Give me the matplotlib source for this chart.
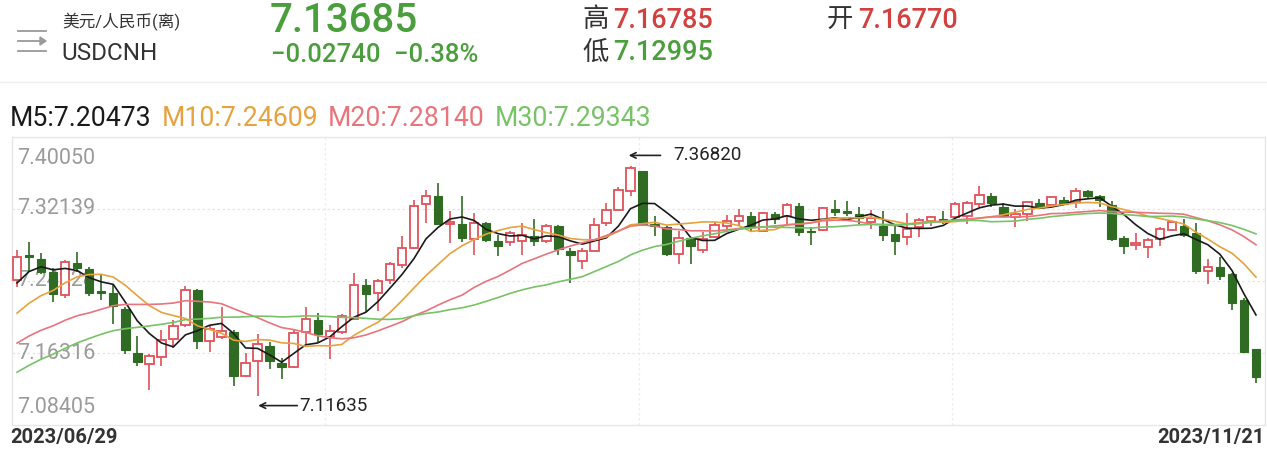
import numpy as np
import pandas as pd
import matplotlib
matplotlib.use('Agg')
import matplotlib.pyplot as plt
from matplotlib.patches import Rectangle, Polygon
from matplotlib.lines import Line2D
from matplotlib.transforms import offset_copy

plt.rcParams['font.family'] = ['Roboto', 'Noto Sans CJK SC', 'DejaVu Sans']

# daily candles 2023/06/29 .. 2023/11/21
opens = [7.2436, 7.2703, 7.2659, 7.2527, 7.2272, 7.2619, 7.2557, 7.2309, 7.2290, 7.2119,
         7.1636, 7.1508, 7.1589, 7.1783, 7.1936, 7.2320, 7.1761, 7.1808, 7.1863, 7.1378,
         7.1542, 7.1710, 7.1527, 7.1473, 7.1863, 7.1998, 7.1808, 7.1863, 7.2009, 7.2374,
         7.2290, 7.2429, 7.2604, 7.2787, 7.3269, 7.3360, 7.3050, 7.3050, 7.2885, 7.3060,
         7.2867, 7.2849, 7.2867, 7.2922, 7.2867, 7.3031, 7.2757, 7.2648, 7.2757, 7.3057,
         7.3203, 7.3414, 7.3626, 7.3050, 7.3013, 7.2714, 7.2896, 7.2765, 7.2911, 7.3031,
         7.3079, 7.3141, 7.2977, 7.3159, 7.3134, 7.3250, 7.2977, 7.2984, 7.3214, 7.3196,
         7.3159, 7.3075, 7.3031, 7.2940, 7.2911, 7.3013, 7.3086, 7.3104, 7.3123, 7.3141,
         7.3269, 7.3360, 7.3232, 7.3130, 7.3159, 7.3279, 7.3261, 7.3312, 7.3294, 7.3407,
         7.3360, 7.3261, 7.2896, 7.2823, 7.2801, 7.2885, 7.2984, 7.3031, 7.2947, 7.2531,
         7.2582, 7.2502, 7.2210, 7.16770]
highs = [7.2764, 7.2856, 7.2728, 7.2564, 7.2655, 7.2746, 7.2582, 7.2484, 7.2385, 7.2137,
         7.1816, 7.1617, 7.1889, 7.1991, 7.2363, 7.2338, 7.1925, 7.2137, 7.1889, 7.1633,
         7.1838, 7.1754, 7.1582, 7.1900, 7.2137, 7.2071, 7.1944, 7.2057, 7.2509, 7.2440,
         7.2447, 7.2630, 7.2922, 7.3312, 7.3422, 7.3495, 7.3188, 7.3360, 7.3166, 7.3075,
         7.2933, 7.2977, 7.3057, 7.3104, 7.3050, 7.3042, 7.2787, 7.2787, 7.3115, 7.3276,
         7.3458, 7.36820, 7.3634, 7.3141, 7.3031, 7.2977, 7.2911, 7.2958, 7.3068, 7.3152,
         7.3214, 7.3177, 7.3177, 7.3177, 7.3276, 7.3276, 7.3020, 7.3239, 7.3313, 7.3298,
         7.3239, 7.3203, 7.3188, 7.3042, 7.3170, 7.3115, 7.3141, 7.3196, 7.3294, 7.3305,
         7.3469, 7.3385, 7.3276, 7.3214, 7.3298, 7.3323, 7.3349, 7.3349, 7.3444, 7.3422,
         7.3371, 7.3305, 7.2922, 7.2947, 7.2893, 7.3013, 7.3079, 7.3104, 7.3057, 7.2666,
         7.2685, 7.2509, 7.2236, 7.16785]
lows = [7.2360, 7.2520, 7.2502, 7.2191, 7.2235, 7.2520, 7.2254, 7.2210, 7.1954, 7.1625,
        7.1487, 7.1230, 7.1487, 7.1688, 7.1918, 7.1681, 7.1643, 7.1790, 7.1268, 7.1371,
        7.11635, 7.1451, 7.1341, 7.1462, 7.1736, 7.1754, 7.1564, 7.1845, 7.1998, 7.2082,
        7.2093, 7.2393, 7.2568, 7.2776, 7.3057, 7.3039, 7.2838, 7.2849, 7.2703, 7.2849,
        7.2692, 7.2812, 7.2703, 7.2812, 7.2838, 7.2703, 7.2400, 7.2557, 7.2750, 7.3031,
        7.3196, 7.3360, 7.3031, 7.2922, 7.2692, 7.2612, 7.2612, 7.2728, 7.2896, 7.2977,
        7.3031, 7.2977, 7.2969, 7.3050, 7.3031, 7.2922, 7.2820, 7.2977, 7.3141, 7.3141,
        7.3050, 7.2995, 7.2860, 7.2703, 7.2823, 7.2904, 7.3031, 7.3050, 7.3086, 7.3050,
        7.3232, 7.3232, 7.3123, 7.3020, 7.3086, 7.3232, 7.3225, 7.3258, 7.3225, 7.3334,
        7.3239, 7.2867, 7.2714, 7.2758, 7.2677, 7.2812, 7.2977, 7.2911, 7.2495, 7.2393,
        7.2436, 7.2108, 7.1633, 7.12995]
closes = [7.2684, 7.2681, 7.2520, 7.2283, 7.2637, 7.2564, 7.2294, 7.2290, 7.2144, 7.1661,
          7.1534, 7.1599, 7.1772, 7.1929, 7.2320, 7.1761, 7.1899, 7.1874, 7.1378, 7.1524,
          7.1736, 7.1542, 7.1473, 7.1856, 7.2002, 7.1838, 7.1874, 7.2035, 7.2374, 7.2276,
          7.2422, 7.2611, 7.2787, 7.3250, 7.3360, 7.3050, 7.3075, 7.2896, 7.3057, 7.2874,
          7.2812, 7.2947, 7.2933, 7.2867, 7.3031, 7.2776, 7.2710, 7.2757, 7.3042, 7.3203,
          7.3422, 7.3663, 7.3050, 7.3031, 7.2714, 7.2896, 7.2812, 7.2885, 7.3042, 7.3086,
          7.3134, 7.3031, 7.3170, 7.3104, 7.3261, 7.2958, 7.2958, 7.3225, 7.3177, 7.3167,
          7.3112, 7.3112, 7.2933, 7.2867, 7.2995, 7.3094, 7.3123, 7.3086, 7.3272, 7.3279,
          7.3371, 7.3276, 7.3141, 7.3159, 7.3287, 7.3250, 7.3342, 7.3269, 7.3407, 7.3360,
          7.3312, 7.2885, 7.2812, 7.2838, 7.2878, 7.2995, 7.3068, 7.2933, 7.2528, 7.2582,
          7.2473, 7.2181, 7.1644, 7.13685]
# closes before 06/29, estimated from where the MA lines start
prior_closes = [7.040, 7.052, 7.061, 7.070, 7.078, 7.083, 7.090, 7.096, 7.102, 7.108,
                7.112, 7.125, 7.130, 7.142, 7.158, 7.166, 7.150, 7.135, 7.139, 7.153,
                7.160, 7.168, 7.172, 7.180, 7.190,
                7.205, 7.226, 7.245, 7.256]

ytick_vals = [7.40050, 7.32139, 7.24228, 7.16316, 7.08405]
date_labels = ['2023/06/29', '2023/11/21']
ma_periods = [5, 10, 20, 30]
ma_labels = ['M5:7.20473', 'M10:7.24609', 'M20:7.28140', 'M30:7.29343']
ma_colors = ['#1a1a1a', '#e6a23c', '#e8747c', '#78c267']

RED = '#e0525a'
GREEN = '#2f6b22'
UP_GREEN = '#4a9e3c'

W, H = 1267, 454
fig = plt.figure(figsize=(W / 100, H / 100), dpi=100)


def fx(x):
    return x / W


def fy(y):
    return 1 - y / H


# header
for yy, x2 in [(31, 46), (41, 40), (51, 46)]:
    fig.add_artist(Line2D([fx(18), fx(x2)], [fy(yy), fy(yy)], color='#9a9a9a', lw=1.3))
fig.add_artist(Polygon([[fx(40), fy(37)], [fx(46), fy(41)], [fx(40), fy(45)]],
                       closed=True, color='#9a9a9a', transform=fig.transFigure))
fig.text(fx(62), fy(22), '美元/人民币(离)', fontsize=12, color='#333333', va='center')
fig.text(fx(61), fy(54), 'USDCNH', fontsize=17.5, color='#333333', va='center')
fig.text(fx(270), fy(21), '7.13685', fontsize=29, color=UP_GREEN, va='center',
         fontweight='medium')
fig.text(fx(271), fy(55), '\u22120.02740', fontsize=18.5, color=UP_GREEN, va='center',
         fontweight='medium')
fig.text(fx(394), fy(55), '\u22120.38%', fontsize=18.5, color=UP_GREEN, va='center',
         fontweight='medium')
fig.text(fx(582), fy(20), '高', fontsize=19, color='#333333', va='center')
fig.text(fx(613), fy(20), '7.16785', fontsize=19.5, color='#d2403f', va='center',
         fontweight='medium')
fig.text(fx(582), fy(53), '低', fontsize=19, color='#333333', va='center')
fig.text(fx(613), fy(53), '7.12995', fontsize=19.5, color=UP_GREEN, va='center',
         fontweight='medium')
fig.text(fx(827), fy(20), '开', fontsize=19, color='#333333', va='center')
fig.text(fx(858), fy(20), '7.16770', fontsize=19.5, color='#d2403f', va='center',
         fontweight='medium')
fig.add_artist(Line2D([0, 1], [fy(82), fy(82)], color='#eeeeee', lw=1))

# MA legend, one piece after the other
fig.canvas.draw()
renderer = fig.canvas.get_renderer()
xpos = 10
for lab, col in zip(ma_labels, ma_colors):
    t = fig.text(fx(xpos), fy(118), lab, fontsize=19.2, color=col, va='center')
    xpos = t.get_window_extent(renderer).x1 + 10

# chart
ax = fig.add_axes([fx(12), fy(425), fx(1265) - fx(12), fy(137) - fy(425)])
n = len(closes)
x = np.arange(n)
ax.set_xlim(-0.42, 103.75)
ax.set_ylim(ytick_vals[-1], ytick_vals[0])

allc = pd.Series(prior_closes + closes)
for p, col in zip(ma_periods, ma_colors):
    ma = allc.rolling(p).mean().values[-n:]
    ax.plot(x, ma, color=col, lw=1.2, zorder=5)

bw = 0.7
for i in x:
    o, h, l, c = opens[i], highs[i], lows[i], closes[i]
    up = c >= o
    col = RED if up else GREEN
    ax.vlines(i, l, h, color=col, lw=1.2, zorder=3)
    bottom = min(o, c)
    hgt = max(abs(c - o), 0.0005)
    if up:
        ax.add_patch(Rectangle((i - bw / 2, bottom), bw, hgt, facecolor='white',
                               edgecolor=col, lw=1.3, zorder=4))
    else:
        ax.add_patch(Rectangle((i - bw / 2, bottom), bw, hgt, facecolor=col,
                               edgecolor=col, lw=0.8, zorder=4))

# grid
for v in ytick_vals[1:-1]:
    ax.axhline(v, color='#e4e4e4', lw=0.9, ls=(0, (2, 2)), zorder=0)
xl = ax.get_xlim()
for k in [1, 2, 3]:
    ax.axvline(xl[0] + (xl[1] - xl[0]) * k / 4, color='#ececec', lw=0.9,
               ls=(0, (2, 2)), zorder=0)
for s in ax.spines.values():
    s.set_color('#e6e6e6')
    s.set_linewidth(1)
ax.set_xticks([])
ax.set_yticks([])

# y labels drawn inside, under the candles
ytr = ax.get_yaxis_transform()
ax.text(0.004, ytick_vals[0] - 0.012, '%.5f' % ytick_vals[0], transform=ytr,
        fontsize=15.5, color='#9b9b9b', va='top', zorder=1)
for v in ytick_vals[1:-1]:
    ax.text(0.004, v, '%.5f' % v, transform=ytr, fontsize=15.5,
            color='#9b9b9b', va='center', zorder=1)
ax.text(0.004, ytick_vals[-1] + 0.008, '%.5f' % ytick_vals[-1], transform=ytr,
        fontsize=15.5, color='#9b9b9b', va='bottom', zorder=1)

# high / low markers, arrows placed in pixel offsets from the extreme candles
ih = int(np.argmax(highs))
il = int(np.argmin(lows))
hx, hy = ih, highs[ih]
t_hi = offset_copy(ax.transData, fig=fig, x=0, y=11, units='dots')
ax.annotate('', xy=(hx - 0.15, hy), xytext=(hx + 2.5, hy), xycoords=t_hi, textcoords=t_hi,
            arrowprops=dict(arrowstyle='->', color='#222222', lw=1.2, shrinkA=0, shrinkB=0))
ax.annotate('%.5f' % hy, xy=(hx, hy), xytext=(43, 11), textcoords='offset pixels',
            fontsize=13.5, color='#222222', va='center')
lx, ly = il, lows[il]
t_lo = offset_copy(ax.transData, fig=fig, x=0, y=-10, units='dots')
ax.annotate('', xy=(lx + 0.05, ly), xytext=(lx + 3.3, ly), xycoords=t_lo, textcoords=t_lo,
            arrowprops=dict(arrowstyle='->', color='#222222', lw=1.2, shrinkA=0, shrinkB=0))
ax.annotate('%.5f' % ly, xy=(lx, ly), xytext=(42, -10), textcoords='offset pixels',
            fontsize=13.5, color='#222222', va='center')

# dates
fig.text(fx(10), fy(438), date_labels[0], fontsize=14.5, color='#333333', va='center',
         fontweight='bold')
fig.text(fx(1265), fy(438), date_labels[1], fontsize=14.5, color='#333333', va='center',
         ha='right', fontweight='bold')

fig.savefig('out.png', dpi=100, facecolor='white')
